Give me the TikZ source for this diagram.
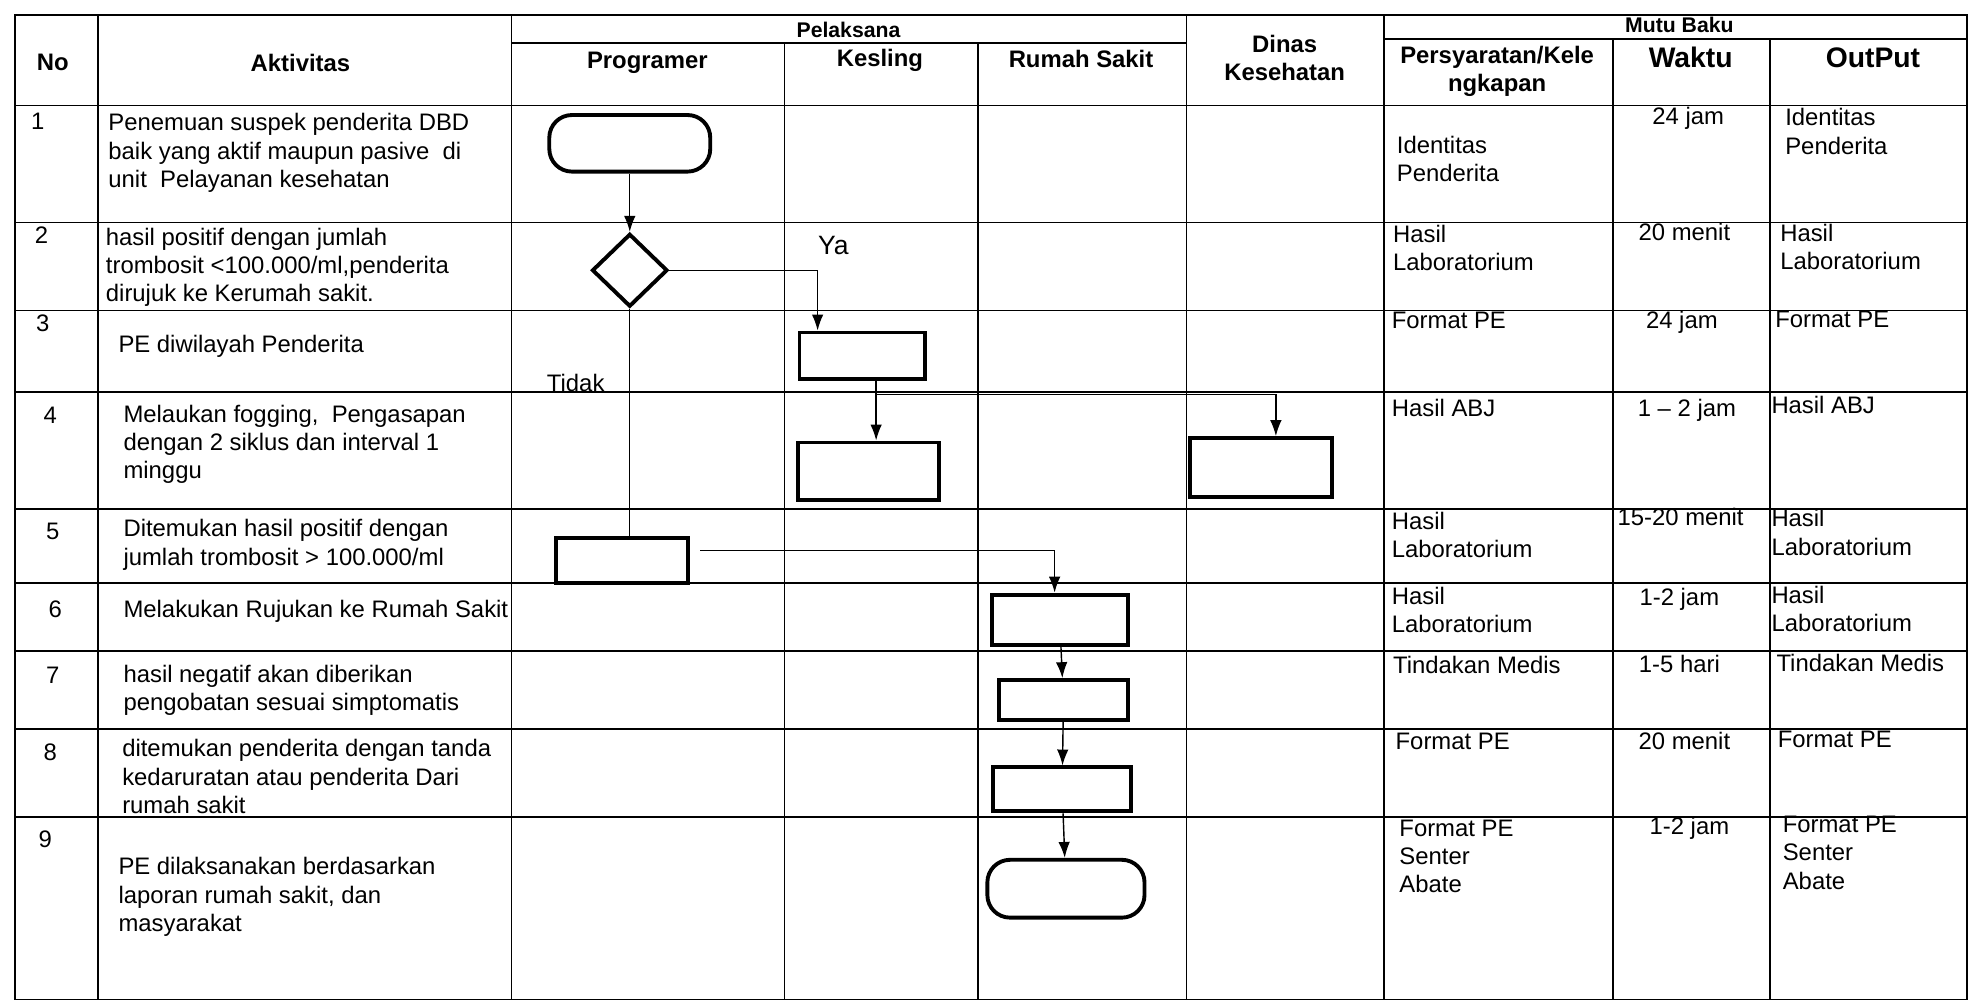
\documentclass[tikz,border=0pt]{standalone}
\usepackage{fontspec}
\setmainfont{Liberation Sans}
\usetikzlibrary{shapes.geometric,arrows.meta}

\begin{document}
\fontsize{13.5}{16}\selectfont
\begin{tikzpicture}[
                    x=0.025cm, y=-0.025cm,
                    >={Latex[length=9pt,width=6.5pt]},
                    garis/.style={line width=0.9pt},
                    panah/.style={->, line width=0.8pt},
                    judul/.style={font=\bfseries, align=center, inner sep=0pt},
                    isi/.style={anchor=north west, align=left, inner sep=0pt},
                    waktu/.style={anchor=base, inner sep=0pt},
                    proses/.style={draw, line width=2.2pt, inner sep=0pt},
                    ujung/.style={draw, line width=2.2pt, rounded corners=0.45cm, inner sep=0pt},
                    putusan/.style={draw, diamond, line width=2.2pt, inner sep=0pt,
                                    minimum width=1.5cm, minimum height=1.45cm}
            ]
                \useasboundingbox (0,0) rectangle (1568,797);
                % tabel
                \draw[garis] (12,12) rectangle (1565,795);
                \draw[garis] (407,34) -- (944,34);
                \draw[garis] (1101,31) -- (1565,31);
                \foreach \y in {84,177,247,312,405,464,518,580,650}
                    \draw[garis] (12,\y) -- (1565,\y);
                \foreach \x in {78,407,944,1101}
                    \draw[garis] (\x,12) -- (\x,795);
                \foreach \x in {624,778}
                    \draw[garis] (\x,34) -- (\x,795);
                \foreach \x in {1283,1408}
                    \draw[garis] (\x,31) -- (\x,795);

                % kepala tabel
                \node[judul] (hNo) at (42,50) {No};
                \node[judul] (hAkt) at (239,50) {Aktivitas};
                \node[judul, font=\fontsize{12}{14}\selectfont\bfseries] (hPel) at (675,24) {Pelaksana};
                \node[judul] (hProg) at (515,50) {Programer};
                \node[judul] (hKes) at (700,48) {Kesling};
                \node[judul] (hRS) at (860,47) {Rumah Sakit};
                \node[judul] (hDin) at (1022,46) {Dinas\\Kesehatan};
                \node[judul, font=\fontsize{12}{14}\selectfont\bfseries] (hMutu) at (1336,20) {Mutu Baku};
                \node[judul] (hSyar) at (1191,57) {Persyaratan/Kele\\ngkapan};
                \node[judul, font=\fontsize{16}{18}\selectfont\bfseries] (hWak) at (1345,46) {Waktu};
                \node[judul, font=\fontsize{16}{18}\selectfont\bfseries] (hOut) at (1490,46) {OutPut};

                % nomor
                \node[waktu] (n1) at (30,103) {1};
                \node[waktu] (n2) at (33,194) {2};
                \node[waktu] (n3) at (34,264) {3};
                \node[waktu] (n4) at (40,337) {4};
                \node[waktu] (n5) at (42,429) {5};
                \node[waktu] (n6) at (44,491) {6};
                \node[waktu] (n7) at (42,544) {7};
                \node[waktu] (n8) at (40,605) {8};
                \node[waktu] (n9) at (36,674) {9};

                % aktivitas
                \node[isi] (a1) at (86,90) {Penemuan suspek penderita DBD\\baik yang aktif maupun pasive\ \ di\\unit\ \ Pelayanan kesehatan};
                \node[isi] (a2) at (84,181) {hasil positif dengan jumlah\\trombosit <100.000/ml,penderita\\dirujuk ke Kerumah sakit.};
                \node[isi] (a3) at (94,266) {PE diwilayah Penderita};
                \node[isi] (a4) at (98,322) {Melaukan fogging,\ \ Pengasapan\\dengan 2 siklus dan interval 1\\minggu};
                \node[isi] (a5) at (98,413) {Ditemukan hasil positif dengan\\jumlah trombosit > 100.000/ml};
                \node[isi] (a6) at (98,477) {Melakukan Rujukan ke Rumah Sakit};
                \node[isi] (a7) at (98,529) {hasil negatif akan diberikan\\pengobatan sesuai simptomatis};
                \node[isi] (a8) at (97,588) {ditemukan penderita dengan tanda\\kedaruratan atau penderita Dari\\rumah sakit};
                \node[isi] (a9) at (94,682) {PE dilaksanakan berdasarkan\\laporan rumah sakit, dan\\masyarakat};

                % persyaratan
                \node[isi] (s1) at (1111,108) {Identitas\\Penderita};
                \node[isi] (s2) at (1108,179) {Hasil\\Laboratorium};
                \node[isi] (s3) at (1107,248) {Format PE};
                \node[isi] (s4) at (1107,317) {Hasil ABJ};
                \node[isi] (s5) at (1107,407) {Hasil\\Laboratorium};
                \node[isi] (s6) at (1107,467) {Hasil\\Laboratorium};
                \node[isi] (s7) at (1108,522) {Tindakan Medis};
                \node[isi] (s8) at (1110,583) {Format PE};
                \node[isi] (s9) at (1113,652) {Format PE\\Senter\\Abate};

                % waktu
                \node[waktu] (w1) at (1343,99) {24 jam};
                \node[waktu] (w2) at (1340,191) {20 menit};
                \node[waktu] (w3) at (1338,261) {24 jam};
                \node[waktu] (w4) at (1342,331) {1 -- 2 jam};
                \node[waktu] (w5) at (1337,418) {15-20 menit};
                \node[waktu] (w6) at (1336,482) {1-2 jam};
                \node[waktu] (w7) at (1336,535) {1-5 hari};
                \node[waktu] (w8) at (1340,596) {20 menit};
                \node[waktu] (w9) at (1344,664) {1-2 jam};

                % output
                \node[isi] (o1) at (1420,86) {Identitas\\Penderita};
                \node[isi] (o2) at (1416,178) {Hasil\\Laboratorium};
                \node[isi] (o3) at (1412,247) {Format PE};
                \node[isi] (o4) at (1409,315) {Hasil ABJ};
                \node[isi] (o5) at (1409,405) {Hasil\\Laboratorium};
                \node[isi] (o6) at (1409,466) {Hasil\\Laboratorium};
                \node[isi] (o7) at (1413,520) {Tindakan Medis};
                \node[isi] (o8) at (1414,581) {Format PE};
                \node[isi] (o9) at (1418,649) {Format PE\\Senter\\Abate};

                % alur
                \node[ujung, minimum width=3.2cm, minimum height=1.125cm] (mulai) at (501,114) {};
                \node[putusan] (cek) at (501,215) {};
                \node[proses, minimum width=2.5cm, minimum height=0.925cm] (pe) at (686,283) {};
                \node[proses, minimum width=2.8cm, minimum height=1.15cm] (fog) at (691,375) {};
                \node[proses, minimum width=2.825cm, minimum height=1.175cm] (dinkes) at (1003,372) {};
                \node[proses, minimum width=2.625cm, minimum height=0.9cm] (hasil) at (495,446) {};
                \node[proses, minimum width=2.7cm, minimum height=1cm] (rujuk) at (843,493) {};
                \node[proses, minimum width=2.55cm, minimum height=0.8cm] (obat) at (846,557) {};
                \node[proses, minimum width=2.75cm, minimum height=0.875cm] (darurat) at (845,628) {};
                \node[ujung, minimum width=3.125cm, minimum height=1.15cm] (selesai) at (848,707) {};
                \node[font=\fontsize{15}{17}\selectfont, inner sep=0pt] (ya) at (663,195) {Ya};
                \node[inner sep=0pt] (tidak) at (458,305) {Tidak};
                \coordinate (cabang) at (697,314);

                \draw[panah] (mulai) -- (cek);
                \draw[panah] (cek.east) -| ([xshift=0.4cm]pe.north west);
                \draw[line width=0.8pt] (cek.south) -- (cek.south |- hasil.north);
                \draw[panah] (pe.south -| cabang) -- (cabang) -- (cabang |- fog.north);
                \draw[panah] (cabang) -| ([xshift=0.3cm]dinkes.north);
                \draw[panah] ([xshift=0.2cm,yshift=0.2cm]hasil.east) -| ([xshift=-0.1cm]rujuk.north);
                \draw[panah] (rujuk) -- (obat);
                \draw[panah] (obat) -- (darurat);
                \draw[panah] (darurat) -- (selesai);
            \end{tikzpicture}
\end{document}
